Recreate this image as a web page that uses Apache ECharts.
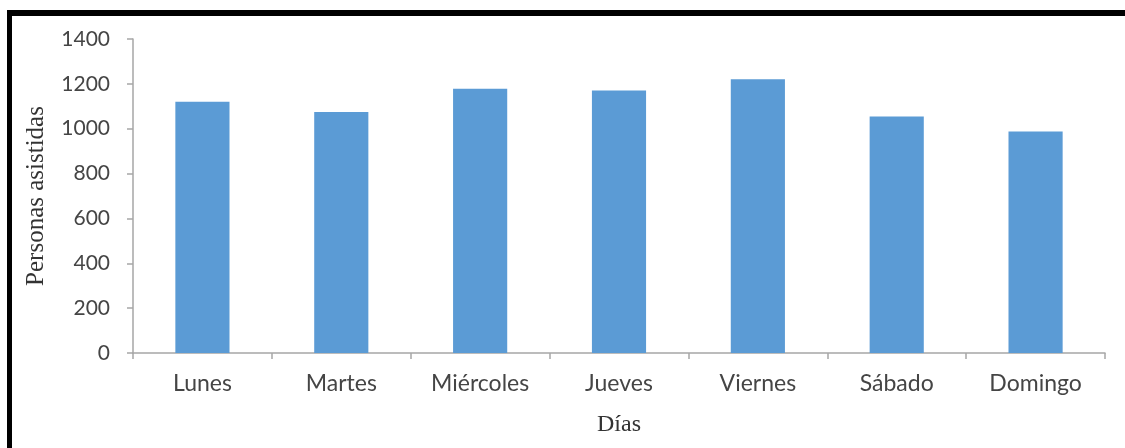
<!DOCTYPE html>
<html>
<head>
<meta charset="utf-8">
<script src="https://cdn.jsdelivr.net/npm/echarts@6/dist/echarts.min.js"></script>
<style>
  html, body { margin: 0; padding: 0; background: #ffffff; }
  #chart { width: 1125px; height: 448px; }
</style>
</head>
<body>
<div id="chart"></div>
<script>
// Personas asistidas por día de la semana
const dias = ['Lunes', 'Martes', 'Miércoles', 'Jueves', 'Viernes', 'Sábado', 'Domingo'];
const personas = [1120, 1075, 1178, 1170, 1220, 1055, 988];
const yTicks = [0, 200, 400, 600, 800, 1000, 1200, 1400];

const axisGray = '#a6a6a6';
const labelColor = '#454545';

const chart = echarts.init(document.getElementById('chart'), null, { renderer: 'canvas' });

chart.setOption({
  animation: false,
  backgroundColor: '#ffffff',
  grid: { left: 133, right: 20, top: 39, bottom: 95, containLabel: false },
  xAxis: {
    type: 'category',
    data: dias,
    name: 'Días',
    nameLocation: 'middle',
    nameGap: 60,
    nameTextStyle: { fontFamily: 'Liberation Serif', fontSize: 24, color: '#333333' },
    axisLine: { show: true, lineStyle: { color: axisGray, width: 1.5 } },
    axisTick: { show: true, length: 6, lineStyle: { color: axisGray, width: 1.5 } },
    axisLabel: { fontFamily: 'Lato', fontSize: 23, color: labelColor, margin: 19 }
  },
  yAxis: {
    type: 'value',
    min: yTicks[0],
    max: yTicks[yTicks.length - 1],
    interval: yTicks[1] - yTicks[0],
    name: 'Personas asistidas',
    nameLocation: 'middle',
    nameGap: 84,
    nameRotate: 90,
    nameTextStyle: { fontFamily: 'Liberation Serif', fontSize: 25, color: '#333333' },
    axisLine: { show: true, lineStyle: { color: axisGray, width: 1.5 } },
    axisTick: { show: true, length: 6, lineStyle: { color: axisGray, width: 1.5 } },
    axisLabel: {
      fontFamily: 'Lato', fontSize: 21, color: labelColor, margin: 23,
      formatter: (v) => String(v)
    },
    splitLine: { show: false }
  },
  series: [{
    type: 'bar',
    data: personas,
    barWidth: '39%',
    itemStyle: { color: '#5b9bd5' }
  }],
  graphic: [
    // marco negro superior e izquierdo
    { type: 'rect', shape: { x: 7, y: 10, width: 1118, height: 6 }, style: { fill: '#000000' }, z: 100 },
    { type: 'rect', shape: { x: 7, y: 10, width: 5, height: 438 }, style: { fill: '#000000' }, z: 100 }
  ]
});
</script>
</body>
</html>
